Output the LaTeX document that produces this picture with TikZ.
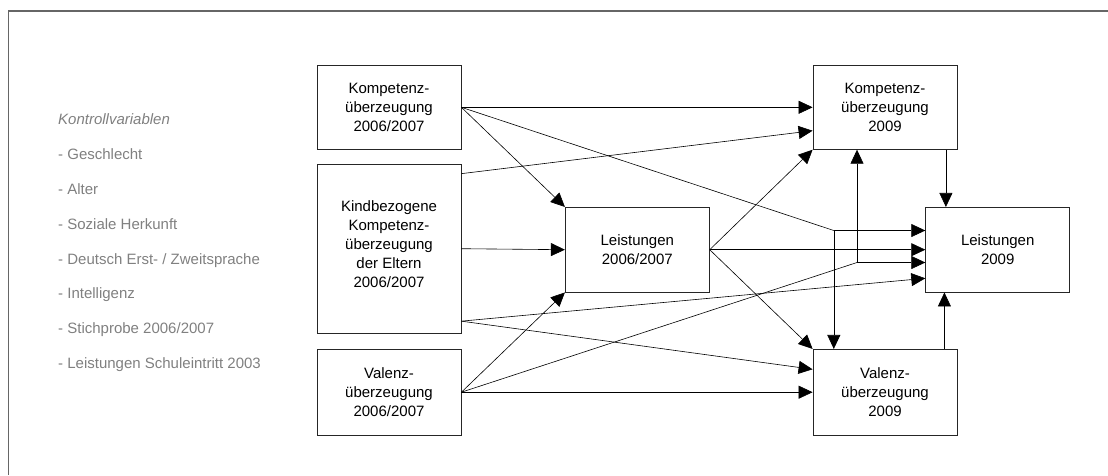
\documentclass[tikz,border=0pt]{standalone}
\usepackage{fontspec}
\setmainfont{Liberation Sans}
\usetikzlibrary{arrows.meta,calc}

\begin{document}
\begin{tikzpicture}[x=1pt,y=-1pt,
		box/.style={draw=black!85,line width=0.8pt,align=center,minimum width=144pt,inner sep=0pt,font=\fontsize{15}{19}\selectfont},
		arr/.style={-{Triangle[length=14pt,width=13pt]},line width=0.6pt},
		ctrl/.style={anchor=base west,inner sep=0pt,text=black!50,font=\fontsize{15}{19}\selectfont}]
	\useasboundingbox (0,0) rectangle (1108,475);
	% frame
	\draw[line width=1.4pt,black!60] (8.5,475) -- (8.5,11) -- (1108,11);
	% control variables
	\node[ctrl] (kv) at (58,124.6) {\itshape Kontrollvariablen};
	\node[ctrl] (kv1) at (58,159.5) {- Geschlecht};
	\node[ctrl] (kv2) at (58,194.3) {- Alter};
	\node[ctrl] (kv3) at (58,229.2) {- Soziale Herkunft};
	\node[ctrl] (kv4) at (58,264.0) {- Deutsch Erst- / Zweitsprache};
	\node[ctrl] (kv5) at (58,298.9) {- Intelligenz};
	\node[ctrl] (kv6) at (58,333.8) {- Stichprobe 2006/2007};
	\node[ctrl] (kv7) at (58,368.6) {- Leistungen Schuleintritt 2003};
	% boxes
	\node[box,minimum height=84pt] (kA) at (389,107.3) {Kompetenz-\\überzeugung\\2006/2007};
	\node[box,minimum height=169.3pt] (kE) at (389,248.7) {Kindbezogene\\Kompetenz-\\überzeugung\\der Eltern\\2006/2007\\[-9pt]};
	\node[box,minimum height=85.7pt] (vA) at (389,392.2) {Valenz-\\überzeugung\\2006/2007};
	\node[box,minimum height=84.7pt] (lA) at (637.3,249.7) {Leistungen\\2006/2007};
	\node[box,minimum height=84pt] (kB) at (885,107.3) {Kompetenz-\\überzeugung\\2009};
	\node[box,minimum height=84.7pt] (lB) at (997.7,249.7) {Leistungen\\2009};
	\node[box,minimum height=85.7pt] (vB) at (885,392.2) {Valenz-\\überzeugung\\2009};
	% junctions
	\coordinate (j1) at (833.8,230.5);
	\coordinate (j2) at (857,262.5);
	\coordinate (kEt) at ($(kE.north east)+(0,10)$);
	\coordinate (kEb) at ($(kE.south east)+(0,-12.6)$);
	\coordinate (kBs) at ($(kB.south east)+(-11.5,0)$);
	\coordinate (vBn) at ($(vB.north east)+(-13,0)$);
	% paths
	\draw[arr] (kA.east) -- (kB.west);
	\draw[arr] (kA.east) -- (lA.north west);
	\draw[line width=0.6pt] (kA.east) -- (j1);
	\draw[arr] (j1) -- (lB.west |- j1);
	\draw[arr] (j1) -- (vB.north -| j1);
	\draw[arr] (kEt) -- ($(kB.west)+(0,23.4)$);
	\draw[arr] (kE.east) -- (lA.west);
	\draw[arr] (kEb) -- ($(lB.west)+(0,28.6)$);
	\draw[arr] (kEb) -- ($(vB.west)+(0,-22.9)$);
	\draw[arr] (vA.east) -- (lA.south west);
	\draw[line width=0.6pt] (vA.east) -- (j2);
	\draw[arr] (j2) -- (kB.south -| j2);
	\draw[arr] (j2) -- (lB.west |- j2);
	\draw[arr] (vA.east) -- (vB.west);
	\draw[arr] (lA.east) -- (kB.south west);
	\draw[arr] (lA.east) -- (lB.west);
	\draw[arr] (lA.east) -- (vB.north west);
	\draw[arr] (kBs) -- (lB.north -| kBs);
	\draw[arr] (vBn) -- (lB.south -| vBn);
\end{tikzpicture}
\end{document}
